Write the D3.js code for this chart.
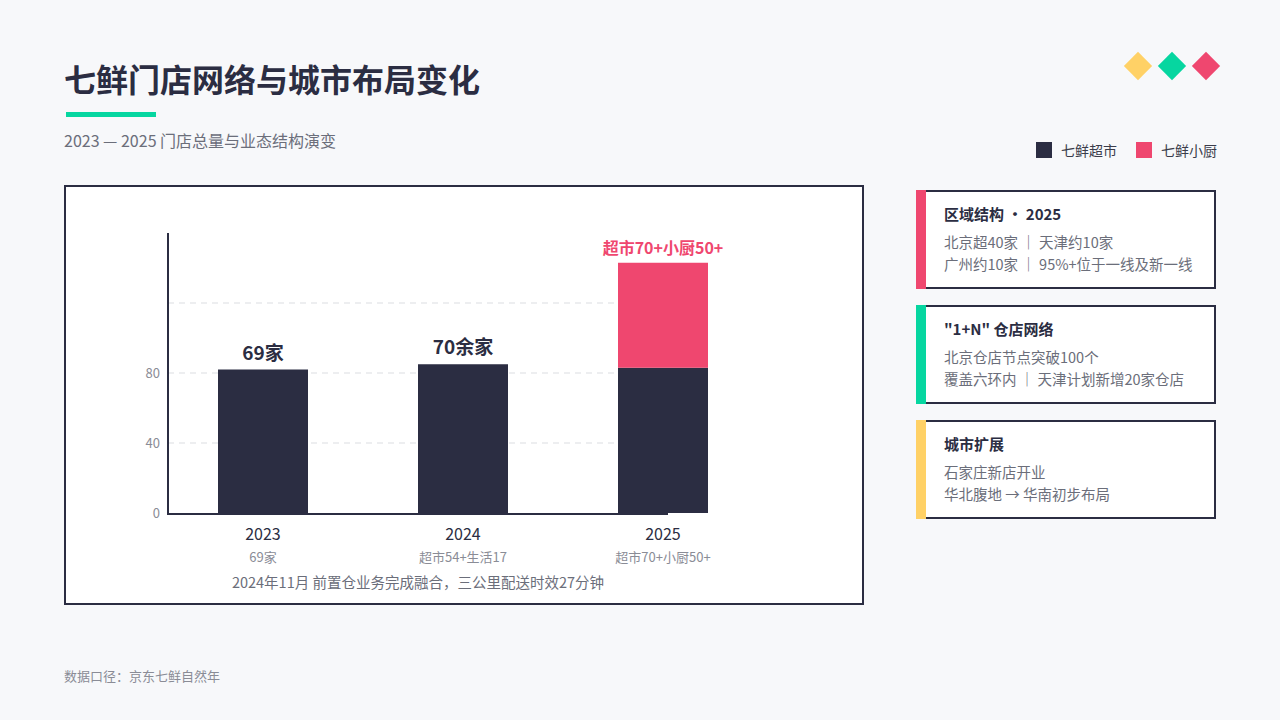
<!DOCTYPE html>
<html><head><meta charset="utf-8">
<script src="https://cdn.jsdelivr.net/npm/d3@7/dist/d3.min.js"></script>
<style>body{margin:0;background:#f7f8fa;font-family:"Noto Sans CJK SC","Noto Sans",sans-serif;}</style>
</head><body><svg id="c" width="1280" height="720"></svg>
<script>
const categories = ["2023","2024","2025"];
const subLabels = ["69家","超市54+生活17","超市70+小厨50+"];
const topLabels = ["69家","70余家","超市70+小厨50+"];
const supermarket = [82, 85, 83];
const kitchen = [0, 0, 60];
const yTicks = [0, 40, 80];
const gridTicks = [40, 80, 120];
const seriesNames = ["七鲜超市","七鲜小厨"];
const colors = {dark:"#2b2d42", pink:"#ef476f", green:"#06d6a0", yellow:"#ffd166"};
const cards = [
 {title:"区域结构 • 2025", lines:["北京超40家 ｜ 天津约10家","广州约10家 ｜ 95%+位于一线及新一线"], color:colors.pink},
 {title:"\"1+N\" 仓店网络", lines:["北京仓店节点突破100个","覆盖六环内 ｜ 天津计划新增20家仓店"], color:colors.green},
 {title:"城市扩展", lines:["石家庄新店开业","华北腹地 → 华南初步布局"], color:colors.yellow}
];
const svg = d3.select("#c");
const F = '"Noto Sans CJK SC","Noto Sans",sans-serif';
svg.append("text").attr("x",64).attr("y",92).attr("font-size",32).attr("font-weight",700).attr("fill",colors.dark).attr("font-family",F).text("七鲜门店网络与城市布局变化");
svg.append("rect").attr("x",66).attr("y",112).attr("width",90).attr("height",5).attr("fill",colors.green);
svg.append("text").attr("x",64).attr("y",147).attr("font-size",16).attr("fill","#6b6e7a").attr("font-family",F).text("2023 — 2025 门店总量与业态结构演变");
[[colors.yellow,1138],[colors.green,1172],[colors.pink,1206]].forEach(([c,x])=>{
 svg.append("rect").attr("x",x-10).attr("y",56).attr("width",20).attr("height",20).attr("fill",c).attr("transform",`rotate(45,${x},66)`);
});
[[colors.dark,1036,seriesNames[0]],[colors.pink,1136,seriesNames[1]]].forEach(([c,x,t])=>{
 svg.append("rect").attr("x",x).attr("y",142).attr("width",16).attr("height",16).attr("fill",c);
 svg.append("text").attr("x",x+25).attr("y",156).attr("font-size",14).attr("fill","#3a3c4a").attr("font-family",F).text(t);
});
svg.append("rect").attr("x",65).attr("y",186).attr("width",798).attr("height",418).attr("fill","#fff").attr("stroke",colors.dark).attr("stroke-width",2);
const x = d3.scaleBand().domain(categories).range([163,763]);
const y = d3.scaleLinear().domain([0,160]).range([513,233]);
const g = svg.append("g");
g.selectAll(".grid").data(gridTicks).join("line").attr("x1",168).attr("x2",668).attr("y1",d=>y(d)).attr("y2",d=>y(d)).attr("stroke","#dcdde2").attr("stroke-dasharray","6,5").attr("stroke-width",1.2);
g.selectAll(".yl").data(yTicks).join("text").attr("x",160).attr("y",d=>y(d)+5).attr("text-anchor","end").attr("font-size",13).attr("fill","#8a8c96").attr("font-family",F).text(d=>d);
const cx = c=>x(c)+x.bandwidth()/2;
const bw = 90;
g.selectAll(".b1").data(categories).join("rect").attr("x",c=>cx(c)-bw/2).attr("width",bw).attr("y",(c,i)=>y(supermarket[i])).attr("height",(c,i)=>y(0)-y(supermarket[i])).attr("fill",colors.dark);
g.selectAll(".b2").data(categories).join("rect").attr("x",c=>cx(c)-bw/2).attr("width",bw).attr("y",(c,i)=>y(supermarket[i]+kitchen[i])).attr("height",(c,i)=>y(0)-y(kitchen[i])).attr("fill",colors.pink);
g.append("line").attr("x1",168).attr("x2",168).attr("y1",233).attr("y2",514).attr("stroke",colors.dark).attr("stroke-width",2);
g.append("line").attr("x1",167).attr("x2",668).attr("y1",514).attr("y2",514).attr("stroke",colors.dark).attr("stroke-width",2);
categories.forEach((c,i)=>{
 const tot = supermarket[i]+kitchen[i];
 const last = i===2;
 g.append("text").attr("x",cx(c)).attr("y",y(tot)-(last?9:10)).attr("text-anchor","middle").attr("font-size",last?16:19).attr("font-weight",700).attr("fill",last?colors.pink:colors.dark).attr("font-family",F).text(topLabels[i]);
 g.append("text").attr("x",cx(c)).attr("y",540).attr("text-anchor","middle").attr("font-size",16).attr("fill",colors.dark).attr("font-family",F).text(c);
 g.append("text").attr("x",cx(c)).attr("y",562).attr("text-anchor","middle").attr("font-size",13).attr("fill","#8a8c96").attr("font-family",F).text(subLabels[i]);
});
svg.append("text").attr("x",418).attr("y",588).attr("text-anchor","middle").attr("font-size",14.5).attr("fill","#6b6e7a").attr("font-family",F).text("2024年11月 前置仓业务完成融合，三公里配送时效27分钟");
cards.forEach((cd,i)=>{
 const top = 191 + i*115;
 svg.append("rect").attr("x",917).attr("y",top).attr("width",298).attr("height",97).attr("fill","#fff").attr("stroke",colors.dark).attr("stroke-width",2);
 svg.append("rect").attr("x",916).attr("y",top-1).attr("width",10).attr("height",99).attr("fill",cd.color);
 svg.append("text").attr("x",944).attr("y",top+29).attr("font-size",15).attr("font-weight",700).attr("fill",colors.dark).attr("font-family",F).text(cd.title);
 cd.lines.forEach((l,j)=>svg.append("text").attr("x",944).attr("y",top+57+j*22).attr("font-size",14.5).attr("fill","#6b6e7a").attr("font-family",F).text(l));
});
svg.append("text").attr("x",64).attr("y",681).attr("font-size",13).attr("fill","#8a8c96").attr("font-family",F).text("数据口径：京东七鲜自然年");
</script></body></html>
